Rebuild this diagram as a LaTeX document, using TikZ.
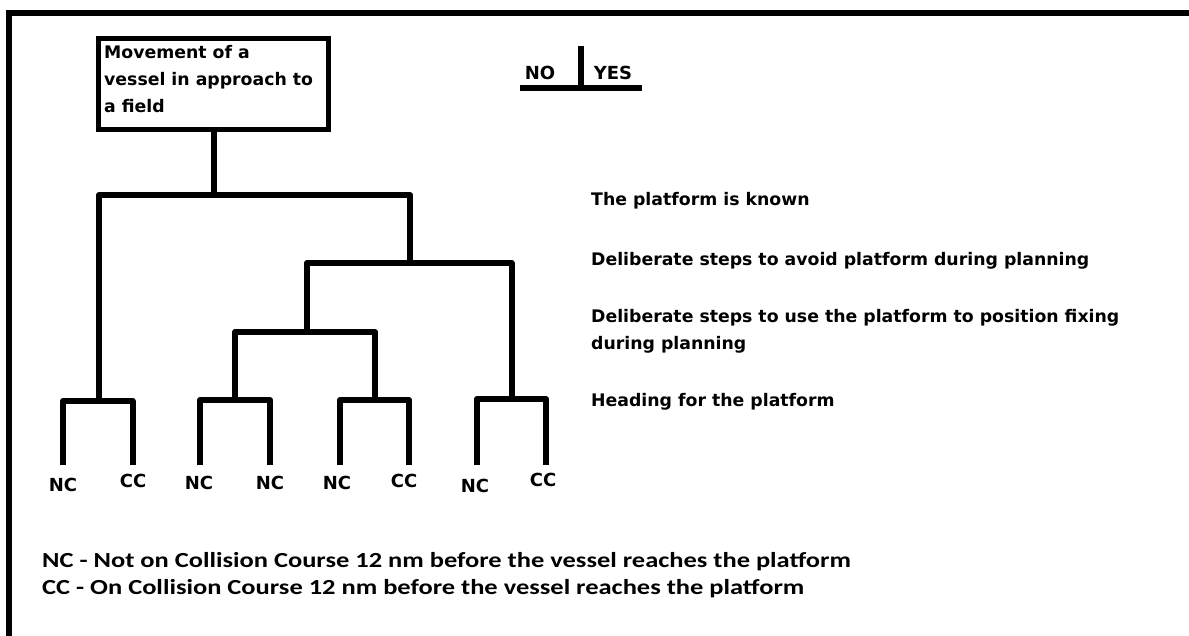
\documentclass[tikz,border=0pt]{standalone}
\usepackage{fontspec}
\setmainfont{DejaVu Sans}
\newfontfamily\legendfont{Carlito}[FakeStretch=1.23]
\begin{document}
\begin{tikzpicture}[x=1pt,y=-1pt,
  treeline/.style={line width=6pt, line join=round, line cap=butt},
  leaflabel/.style={font=\fontsize{18}{22}\selectfont\bfseries, inner sep=0pt},
  sidelabel/.style={font=\fontsize{17.3}{27}\selectfont\bfseries, inner sep=0pt, anchor=base west, align=left},
  legend/.style={font=\fontsize{21.5}{27}\selectfont\legendfont\bfseries, inner sep=0pt, anchor=base west, align=left},
  rootbox/.style={draw, line width=5pt, minimum width=230pt, minimum height=91pt, inner sep=0pt}
]
\useasboundingbox[fill=white] (0,0) rectangle (1189,635);
% frame
\draw[line width=6pt] (9,645) -- (9,13) -- (1200,13);

% root
\node[rootbox] (root) at (213.5,84) {};
\node[anchor=base west, inner sep=0pt, align=left, font=\fontsize{17.3}{27}\selectfont\bfseries] (roottext) at (104,112) {Movement of a\\vessel in approach to\\a field};

% junction coordinates
\coordinate (j1) at (213.5,195);
\coordinate (j2) at (410,263);
\coordinate (j3) at (307,332);
\coordinate (p1) at (99,401);
\coordinate (p2) at (235,400);
\coordinate (p3) at (375,400);
\coordinate (p4) at (511.5,399);

% leaves
\node[leaflabel] (l1) at (63,485) {NC};
\node[leaflabel] (l2) at (133,481) {CC};
\node[leaflabel] (l3) at (199,483) {NC};
\node[leaflabel] (l4) at (270,483) {NC};
\node[leaflabel] (l5) at (337,483) {NC};
\node[leaflabel] (l6) at (404,481) {CC};
\node[leaflabel] (l7) at (475,486) {NC};
\node[leaflabel] (l8) at (543,480) {CC};

% tree lines
\draw[treeline] (root.south) -- (j1);
\draw[treeline] (p1) |- (j1) -| (j2);
\draw[treeline] (j3) |- (j2) -| (p4);
\draw[treeline] (p2) |- (j3) -| (p3);
\draw[treeline] (63,465) |- (p1) -| (132.5,465);
\draw[treeline] (200,465) |- (p2) -| (270,465);
\draw[treeline] (340,465) |- (p3) -| (409,465);
\draw[treeline] (477,465) |- (p4) -| (546,465);

% NO / YES key
\coordinate (keytop) at (581,46);
\coordinate (keymid) at (581,88);
\coordinate (keyl) at (520,88);
\coordinate (keyr) at (642,88);
\draw[line width=6pt] (keytop) -- (keymid);
\draw[line width=6pt] (keyl) -- (keyr);
\node[leaflabel] (no) at (540,73) {NO};
\node[leaflabel] (yes) at (613,73) {YES};

% side labels
\node[sidelabel] (s1) at (591,205) {The platform is known};
\node[sidelabel] (s2) at (591,265) {Deliberate steps to avoid platform during planning};
\node[sidelabel] (s3) at (591,349) {Deliberate steps to use the platform to position fixing\\during planning};
\node[sidelabel] (s4) at (591,406) {Heading for the platform};

% legend
\node[legend] (leg) at (42,594) {NC - Not on Collision Course 12 nm before the vessel reaches the platform\\CC - On Collision Course 12 nm before the vessel reaches the platform};
\end{tikzpicture}
\end{document}
